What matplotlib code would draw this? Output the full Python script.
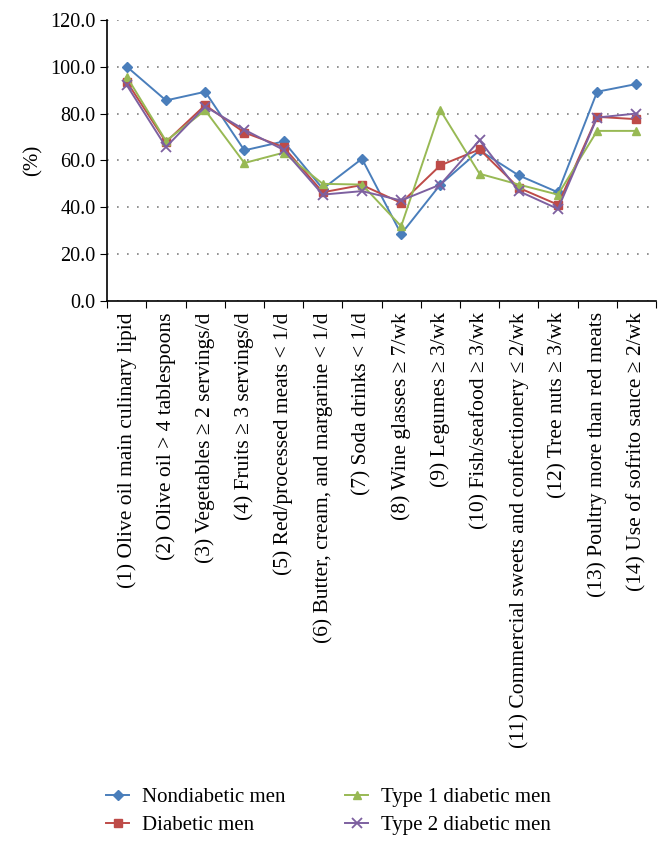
import matplotlib
matplotlib.use("Agg")
from matplotlib import pyplot as plt
import numpy as np

plt.rcParams['font.family'] = ['Liberation Serif', 'DejaVu Serif']

labels = ["(1) Olive oil main culinary lipid",
          "(2) Olive oil > 4 tablespoons",
          "(3) Vegetables \u2265 2 servings/d",
          "(4) Fruits \u2265 3 servings/d",
          "(5) Red/processed meats < 1/d",
          "(6) Butter, cream, and margarine < 1/d",
          "(7) Soda drinks < 1/d",
          "(8) Wine glasses \u2265 7/wk",
          "(9) Legumes \u2265 3/wk",
          "(10) Fish/seafood \u2265 3/wk",
          "(11) Commercial sweets and confectionery \u2264 2/wk",
          "(12) Tree nuts \u2265 3/wk",
          "(13) Poultry more than red meats",
          "(14) Use of sofrito sauce \u2265 2/wk"]

nondiab = [100.0, 85.6, 89.3, 64.3, 68.1, 47.9, 60.7, 28.6, 49.7, 64.3, 53.6, 46.4, 89.3, 92.6]
diab    = [93.6, 67.9, 83.6, 71.9, 65.7, 46.4, 49.5, 41.9, 57.9, 64.7, 48.3, 41.1, 78.6, 77.6]
type1   = [95.7, 68.3, 81.4, 58.9, 63.3, 50.0, 49.7, 31.9, 81.4, 54.3, 49.7, 45.4, 72.6, 72.6]
type2   = [92.1, 65.7, 83.0, 73.1, 64.5, 45.4, 46.9, 42.9, 49.7, 68.6, 46.9, 39.3, 78.3, 80.0]

fig = plt.figure(figsize=(6.7, 8.47), dpi=100)
ax = fig.add_axes([0.160, 0.6446, 0.819, 0.332])

x = np.arange(len(labels))
ax.plot(x, nondiab, marker='D', ms=5, lw=1.4, color='#4A7EBB', label='Nondiabetic men')
ax.plot(x, diab, marker='s', ms=6, lw=1.4, color='#BE4B48', label='Diabetic men')
ax.plot(x, type1, marker='^', ms=6, lw=1.4, color='#98B954', label='Type 1 diabetic men')
ax.plot(x, type2, marker='x', ms=7.5, mew=1.3, lw=1.4, color='#7D60A0', label='Type 2 diabetic men')

ax.set_xlim(-0.5, len(labels) - 0.5)
ax.set_ylim(0, 120)
ax.set_yticks(np.arange(0, 121, 20))
ax.set_yticklabels(["%.1f" % v for v in np.arange(0, 121, 20)], fontsize=14.5)
ax.yaxis.grid(True, color='#808080', linestyle=(0, (1, 5)), lw=1.2)
ax.set_axisbelow(True)

# category boundaries get the tick marks, the labels sit in between
ax.set_xticks(np.arange(-0.5, len(labels), 1.0))
ax.set_xticklabels([])
ax.set_xticks(x, minor=True)
ax.set_xticklabels(labels, minor=True, rotation=90, fontsize=15.5, va='top', ha='center')
ax.tick_params(axis='x', which='minor', length=0, pad=8)
ax.tick_params(axis='x', which='major', length=5, direction='out')
ax.tick_params(axis='y', length=5, direction='out')

for s in ['top', 'right']:
    ax.spines[s].set_visible(False)
ax.spines['left'].set_linewidth(1.2)
ax.spines['bottom'].set_linewidth(1.2)

ax.set_ylabel("(%)", fontsize=15, labelpad=5)

fig.legend(loc='lower left', bbox_to_anchor=(0.146, 0.004), ncol=2, frameon=False,
           fontsize=15, columnspacing=2.9, handlelength=1.1, handletextpad=0.6,
           labelspacing=0.4, borderaxespad=0)

fig.savefig("out.png", dpi=100)
